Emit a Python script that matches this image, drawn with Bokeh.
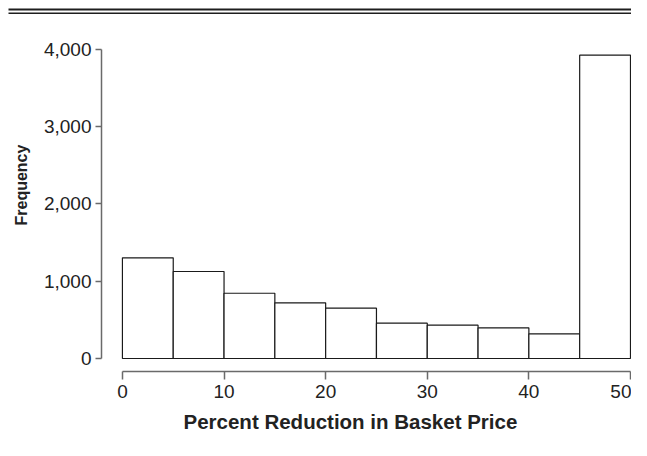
from bokeh.plotting import figure
from bokeh.models import (Range1d, FixedTicker, NumeralTickFormatter, Title,
                          ColumnDataSource, BoxAnnotation)
from bokeh.layouts import column
from bokeh.embed import file_html
from bokeh.resources import INLINE

# ---- data ----
bin_edges = [0, 5, 10, 15, 20, 25, 30, 35, 40, 45, 50]
counts = [1303, 1126, 845, 721, 651, 457, 432, 397, 320, 3926]
x_ticks = [0, 10, 20, 30, 40, 50]
y_ticks = [0, 1000, 2000, 3000, 4000]
x_title = "Percent Reduction in Basket Price"
y_title = "Frequency"

FONT = "Liberation Sans"
TXT = "#222222"
AX = "#6a6a6a"
W = 631

# ---- top double rule (a frame-only strip) ----
rule = figure(width=W, height=14, output_backend="svg", toolbar_location=None,
              x_range=Range1d(0, W), y_range=Range1d(0, 14),
              x_axis_type=None, y_axis_type=None,
              min_border=0, min_border_left=0, min_border_right=0,
              min_border_top=0, min_border_bottom=0, frame_align=False)
rule.outline_line_color = None
rule.grid.visible = False
for b, t in ((4, 6), (0, 2)):
    rule.add_layout(BoxAnnotation(left=8, right=W, bottom=b, top=t,
                                  fill_color="#1e1e1e", fill_alpha=1.0,
                                  line_color=None))

# ---- histogram ----
src = ColumnDataSource(dict(left=bin_edges[:-1], right=bin_edges[1:],
                            top=counts, bottom=[0] * len(counts)))

p = figure(width=W, height=426, output_backend="svg", toolbar_location=None,
           x_range=Range1d(-2.06, 50.1), y_range=Range1d(-168, 4116),
           min_border_left=99, min_border_right=0, min_border_top=26,
           min_border_bottom=69, frame_align=False)
p.outline_line_color = None
p.xgrid.visible = False
p.ygrid.visible = False

p.quad(left="left", right="right", top="top", bottom="bottom", source=src,
       fill_color="white", line_color="#1a1a1a", line_width=1.2)

for ax in (p.xaxis[0], p.yaxis[0]):
    ax.axis_line_color = AX
    ax.axis_line_width = 1.5
    ax.major_tick_line_color = AX
    ax.major_tick_line_width = 1.5
    ax.major_tick_in = 0
    ax.minor_tick_line_color = None
    ax.major_label_text_font = FONT
    ax.major_label_text_font_size = "19px"
    ax.major_label_text_color = TXT

p.xaxis[0].ticker = FixedTicker(ticks=x_ticks)
p.xaxis[0].bounds = (x_ticks[0], x_ticks[-1])
p.xaxis[0].major_tick_out = 8
p.xaxis[0].major_label_standoff = 5

p.yaxis[0].ticker = FixedTicker(ticks=y_ticks)
p.yaxis[0].bounds = (y_ticks[0], y_ticks[-1])
p.yaxis[0].major_tick_out = 6
p.yaxis[0].major_label_standoff = 4
p.yaxis[0].formatter = NumeralTickFormatter(format="0,0")

p.add_layout(Title(text=x_title, text_font=FONT, text_font_size="20.5px",
                   text_font_style="bold", text_color=TXT, align="left",
                   offset=82, standoff=15), "below")
p.add_layout(Title(text=y_title, text_font=FONT, text_font_size="16px",
                   text_font_style="bold", text_color=TXT, align="left",
                   offset=146, standoff=21), "left")

layout = column(rule, p, spacing=0)
open("out.html", "w").write(file_html(layout, INLINE))
